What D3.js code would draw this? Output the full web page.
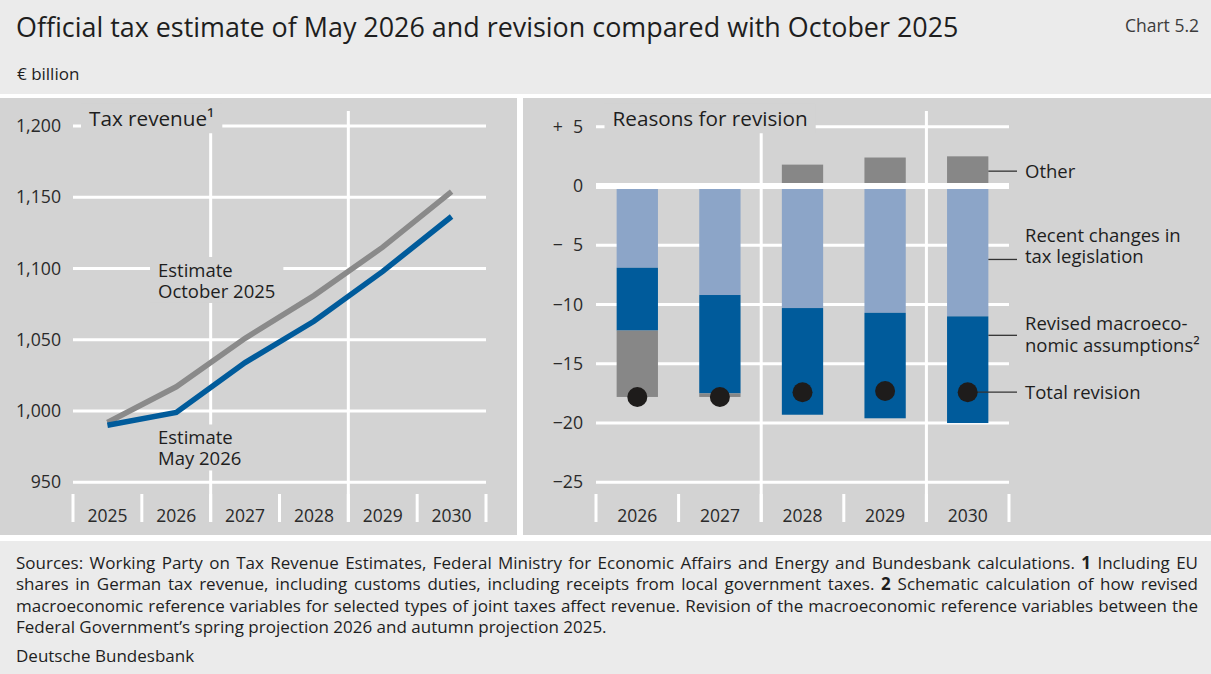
<!DOCTYPE html>
<html>
<head>
<meta charset="utf-8">
<script src="https://cdn.jsdelivr.net/npm/d3@7"></script>
<style>
  html, body { margin: 0; padding: 0; background: #ffffff; }
  svg { display: block; font-family: "Open Sans", "Noto Sans", sans-serif; }
</style>
</head>
<body>
<svg id="chart" width="1211" height="674"></svg>
<script>
// ---- Data (€ billion) ----
const years = ["2025", "2026", "2027", "2028", "2029", "2030"];
const estimateOctober2025 = [992, 1017, 1051, 1081, 1115, 1154];
const estimateMay2026 = [990, 999, 1034, 1063, 1098, 1136.5];
const revenueTicks = [950, 1000, 1050, 1100, 1150, 1200];

const revisionYears = ["2026", "2027", "2028", "2029", "2030"];
const taxLegislation = [-6.9, -9.2, -10.3, -10.7, -11.0];
const macroAssumptions = [-5.3, -8.3, -9.0, -8.9, -9.0];
const otherEffects = [-5.6, -0.3, 1.8, 2.4, 2.5];
const totalRevision = [-17.8, -17.8, -17.4, -17.3, -17.4];
const revisionTicks = [5, 0, -5, -10, -15, -20, -25];
const revisionTickLabels = ["+\u20075", "0", "\u2212\u20075", "\u221210", "\u221215", "\u221220", "\u221225"];

// ---- Styles ----
const C = {
  page: "#ebebeb",
  panel: "#d3d3d3",
  grid: "#ffffff",
  text: "#1e1e1e",
  october: "#8a8a8a",
  may: "#005b9b",
  legislation: "#8ca5c8",
  macro: "#005b9b",
  other: "#878787",
  dot: "#1e1c1b"
};

const svg = d3.select("#chart");

// ---- Frame: header, panels, footer ----
svg.append("rect").attr("x", 0).attr("y", 0).attr("width", 1211).attr("height", 94).attr("fill", C.page);
svg.append("rect").attr("x", 0).attr("y", 98).attr("width", 517).attr("height", 437).attr("fill", C.panel);
svg.append("rect").attr("x", 523).attr("y", 98).attr("width", 688).attr("height", 437).attr("fill", C.panel);
svg.append("rect").attr("x", 0).attr("y", 541).attr("width", 1211).attr("height", 133).attr("fill", C.page);

svg.append("text").attr("x", 16).attr("y", 37)
  .attr("font-size", 26.9).attr("fill", C.text)
  .text("Official tax estimate of May 2026 and revision compared with October 2025");
svg.append("text").attr("x", 1199).attr("y", 31.5).attr("text-anchor", "end")
  .attr("font-size", 17.5).attr("fill", "#3c3c3c").text("Chart 5.2");
svg.append("text").attr("x", 17).attr("y", 79.5)
  .attr("font-size", 17).attr("fill", C.text).text("\u20ac billion");

// multi-line label with a panel-coloured backing box so gridlines stop at it
function boxedLabel(g, x, y0, lineGap, lines, size, padX, padY) {
  const grp = g.append("g");
  const bg = grp.append("rect").attr("fill", C.panel);
  const t = grp.append("text").attr("font-size", size).attr("fill", C.text);
  lines.forEach((line, i) => {
    t.append("tspan").attr("x", x).attr("y", y0 + i * lineGap).attr("dy", "0.35em").text(line);
  });
  const b = t.node().getBBox();
  bg.attr("x", b.x - padX).attr("y", b.y - padY)
    .attr("width", b.width + 2 * padX).attr("height", b.height + 2 * padY);
  return grp;
}

// ================= Left panel: tax revenue =================
{
  const g = svg.append("g");
  const x = d3.scaleBand().domain(years).range([73, 486]);
  const y = d3.scaleLinear().domain([950, 1200]).range([482.3, 126]);
  const catTop = 494, catBottom = 522;

  // horizontal gridlines
  g.append("g").selectAll("line").data(revenueTicks).join("line")
    .attr("x1", 73).attr("x2", 486)
    .attr("y1", d => y(d)).attr("y2", d => y(d))
    .attr("stroke", C.grid).attr("stroke-width", 3);

  // vertical dividers between year pairs
  g.append("g").selectAll("line").data(["2027", "2029"]).join("line")
    .attr("x1", d => x(d)).attr("x2", d => x(d))
    .attr("y1", 111).attr("y2", catBottom)
    .attr("stroke", C.grid).attr("stroke-width", 3);

  // category separators
  const edges = years.map(d => x(d)).concat([x.range()[1]]);
  g.append("g").selectAll("line").data(edges).join("line")
    .attr("x1", d => d).attr("x2", d => d)
    .attr("y1", catTop).attr("y2", catBottom)
    .attr("stroke", C.grid).attr("stroke-width", 3);

  // y tick labels
  g.append("g").selectAll("text").data(revenueTicks).join("text")
    .attr("x", 61).attr("y", d => y(d)).attr("dy", "0.35em")
    .attr("text-anchor", "end").attr("font-size", 17.7).attr("fill", "#2a2a2a")
    .text(d => d3.format(",")(d));

  // category labels
  g.append("g").selectAll("text").data(years).join("text")
    .attr("x", d => x(d) + x.bandwidth() / 2).attr("y", 516).attr("dy", "0.35em")
    .attr("text-anchor", "middle").attr("font-size", 17.5).attr("fill", "#2a2a2a")
    .text(d => d);

  // panel title
  boxedLabel(g, 89, 119, 0, ["Tax revenue\u00b9"], 20.7, 8, 1);

  // series labels
  boxedLabel(g, 158, 270.5, 21, ["Estimate", "October 2025"], 18.5, 8, 0);
  boxedLabel(g, 158, 438, 21, ["Estimate", "May 2026"], 18.5, 8, 0);

  const line = d3.line()
    .x((d, i) => x(years[i]) + x.bandwidth() / 2)
    .y(d => y(d));
  g.append("path").datum(estimateOctober2025).attr("d", line)
    .attr("fill", "none").attr("stroke", C.october).attr("stroke-width", 5.5);
  g.append("path").datum(estimateMay2026).attr("d", line)
    .attr("fill", "none").attr("stroke", C.may).attr("stroke-width", 5.5);
}

// ================= Right panel: reasons for revision =================
{
  const g = svg.append("g");
  const x = d3.scaleBand().domain(revisionYears).range([596, 1009])
    .paddingInner(0.5).paddingOuter(0.25);
  const y = d3.scaleLinear().domain([-25, 5]).range([482.3, 126.7]);
  const catTop = 494, catBottom = 522;

  g.append("g").selectAll("line").data(revisionTicks.filter(d => d !== 0)).join("line")
    .attr("x1", 596).attr("x2", 1009)
    .attr("y1", d => y(d)).attr("y2", d => y(d))
    .attr("stroke", C.grid).attr("stroke-width", 3);

  const edge = d => x(d) - x.step() * x.paddingInner() / 2;
  g.append("g").selectAll("line").data(["2028", "2030"]).join("line")
    .attr("x1", edge).attr("x2", edge)
    .attr("y1", 111).attr("y2", catBottom)
    .attr("stroke", C.grid).attr("stroke-width", 3);

  const edges = revisionYears.map(edge).concat([1009]);
  g.append("g").selectAll("line").data(edges).join("line")
    .attr("x1", d => d).attr("x2", d => d)
    .attr("y1", catTop).attr("y2", catBottom)
    .attr("stroke", C.grid).attr("stroke-width", 3);

  g.append("g").selectAll("text").data(revisionTicks).join("text")
    .attr("x", 583).attr("y", d => y(d)).attr("dy", "0.35em")
    .attr("text-anchor", "end").attr("font-size", 17.7).attr("fill", "#2a2a2a")
    .text((d, i) => revisionTickLabels[i]);

  g.append("g").selectAll("text").data(revisionYears).join("text")
    .attr("x", d => x(d) + x.bandwidth() / 2).attr("y", 516).attr("dy", "0.35em")
    .attr("text-anchor", "middle").attr("font-size", 17.5).attr("fill", "#2a2a2a")
    .text(d => d);

  boxedLabel(g, 612.5, 119, 0, ["Reasons for revision"], 20.7, 8, 1);

  // stacked components (negative parts stack downward, positive upward)
  const keys = ["legislation", "macro", "other"];
  const colors = { legislation: C.legislation, macro: C.macro, other: C.other };
  const rows = revisionYears.map((yr, i) => ({
    year: yr,
    legislation: taxLegislation[i],
    macro: macroAssumptions[i],
    other: otherEffects[i]
  }));
  const series = d3.stack().keys(keys).offset(d3.stackOffsetDiverging)(rows);
  g.append("g").selectAll("g").data(series).join("g")
    .attr("fill", s => colors[s.key])
    .selectAll("rect").data(s => s).join("rect")
    .attr("x", d => x(d.data.year))
    .attr("width", x.bandwidth())
    .attr("y", d => y(Math.max(d[0], d[1])))
    .attr("height", d => Math.abs(y(d[0]) - y(d[1])));

  // zero line above the bars
  g.append("line").attr("x1", 596).attr("x2", 1009)
    .attr("y1", y(0)).attr("y2", y(0))
    .attr("stroke", C.grid).attr("stroke-width", 6);

  // legend leaders attached to the last bar
  const li = revisionYears.length - 1;
  const last = revisionYears[li];
  const barRight = x(last) + x.bandwidth();
  const barMid = x(last) + x.bandwidth() / 2;
  const legendX = 1025, leaderEnd = 1017;
  const legend = [
    { lines: ["Other"], y0: y(otherEffects[li] / 2), leaderY: y(otherEffects[li] / 2), from: barRight },
    { lines: ["Recent changes in", "tax legislation"], y0: 235.5, leaderY: y(-6.2), from: barRight },
    { lines: ["Revised macroeco-", "nomic assumptions\u00b2"], y0: 324, leaderY: y(-12.6), from: barRight },
    { lines: ["Total revision"], y0: y(totalRevision[li]), leaderY: y(totalRevision[li]), from: barMid }
  ];
  legend.forEach(l => {
    g.append("line").attr("x1", l.from).attr("x2", leaderEnd)
      .attr("y1", l.leaderY).attr("y2", l.leaderY)
      .attr("stroke", "#333333").attr("stroke-width", 1.3);
    const t = g.append("text").attr("font-size", 18.5).attr("fill", C.text);
    l.lines.forEach((s, i) => {
      t.append("tspan").attr("x", legendX).attr("y", l.y0 + i * 21.5).attr("dy", "0.35em").text(s);
    });
  });

  // total revision dots
  g.append("g").selectAll("circle").data(revisionYears).join("circle")
    .attr("cx", d => x(d) + x.bandwidth() / 2)
    .attr("cy", (d, i) => y(totalRevision[i]))
    .attr("r", 10).attr("fill", C.dot);
}

// ================= Footer =================
{
  const g = svg.append("g").attr("font-size", 17).attr("fill", C.text);
  const notes = [
    { parts: [["Sources: Working Party on Tax Revenue Estimates, Federal Ministry for Economic Affairs and Energy and Bundesbank calculations. ", 400], ["1", 700], [" Including EU", 400]], justify: true },
    { parts: [["shares in German tax revenue, including customs duties, including receipts from local government taxes. ", 400], ["2", 700], [" Schematic calculation of how revised", 400]], justify: true },
    { parts: [["macroeconomic reference variables for selected types of joint taxes affect revenue. Revision of the macroeconomic reference variables between the", 400]], justify: true },
    { parts: [["Federal Government\u2019s spring projection 2026 and autumn projection 2025.", 400]], justify: false }
  ];
  const left = 16, right = 1198;
  notes.forEach((n, i) => {
    const t = g.append("text").attr("x", left).attr("y", 563 + i * 21.5).attr("dy", "0.35em");
    n.parts.forEach(p => t.append("tspan").attr("font-weight", p[1]).text(p[0]));
    if (n.justify) {
      const natural = t.node().getComputedTextLength();
      const spaces = n.parts.map(p => p[0]).join("").split(" ").length - 1;
      t.attr("word-spacing", (right - left - natural) / spaces);
    }
  });
  g.append("text").attr("x", left).attr("y", 656).attr("dy", "0.35em").text("Deutsche Bundesbank");
}
</script>
</body>
</html>
